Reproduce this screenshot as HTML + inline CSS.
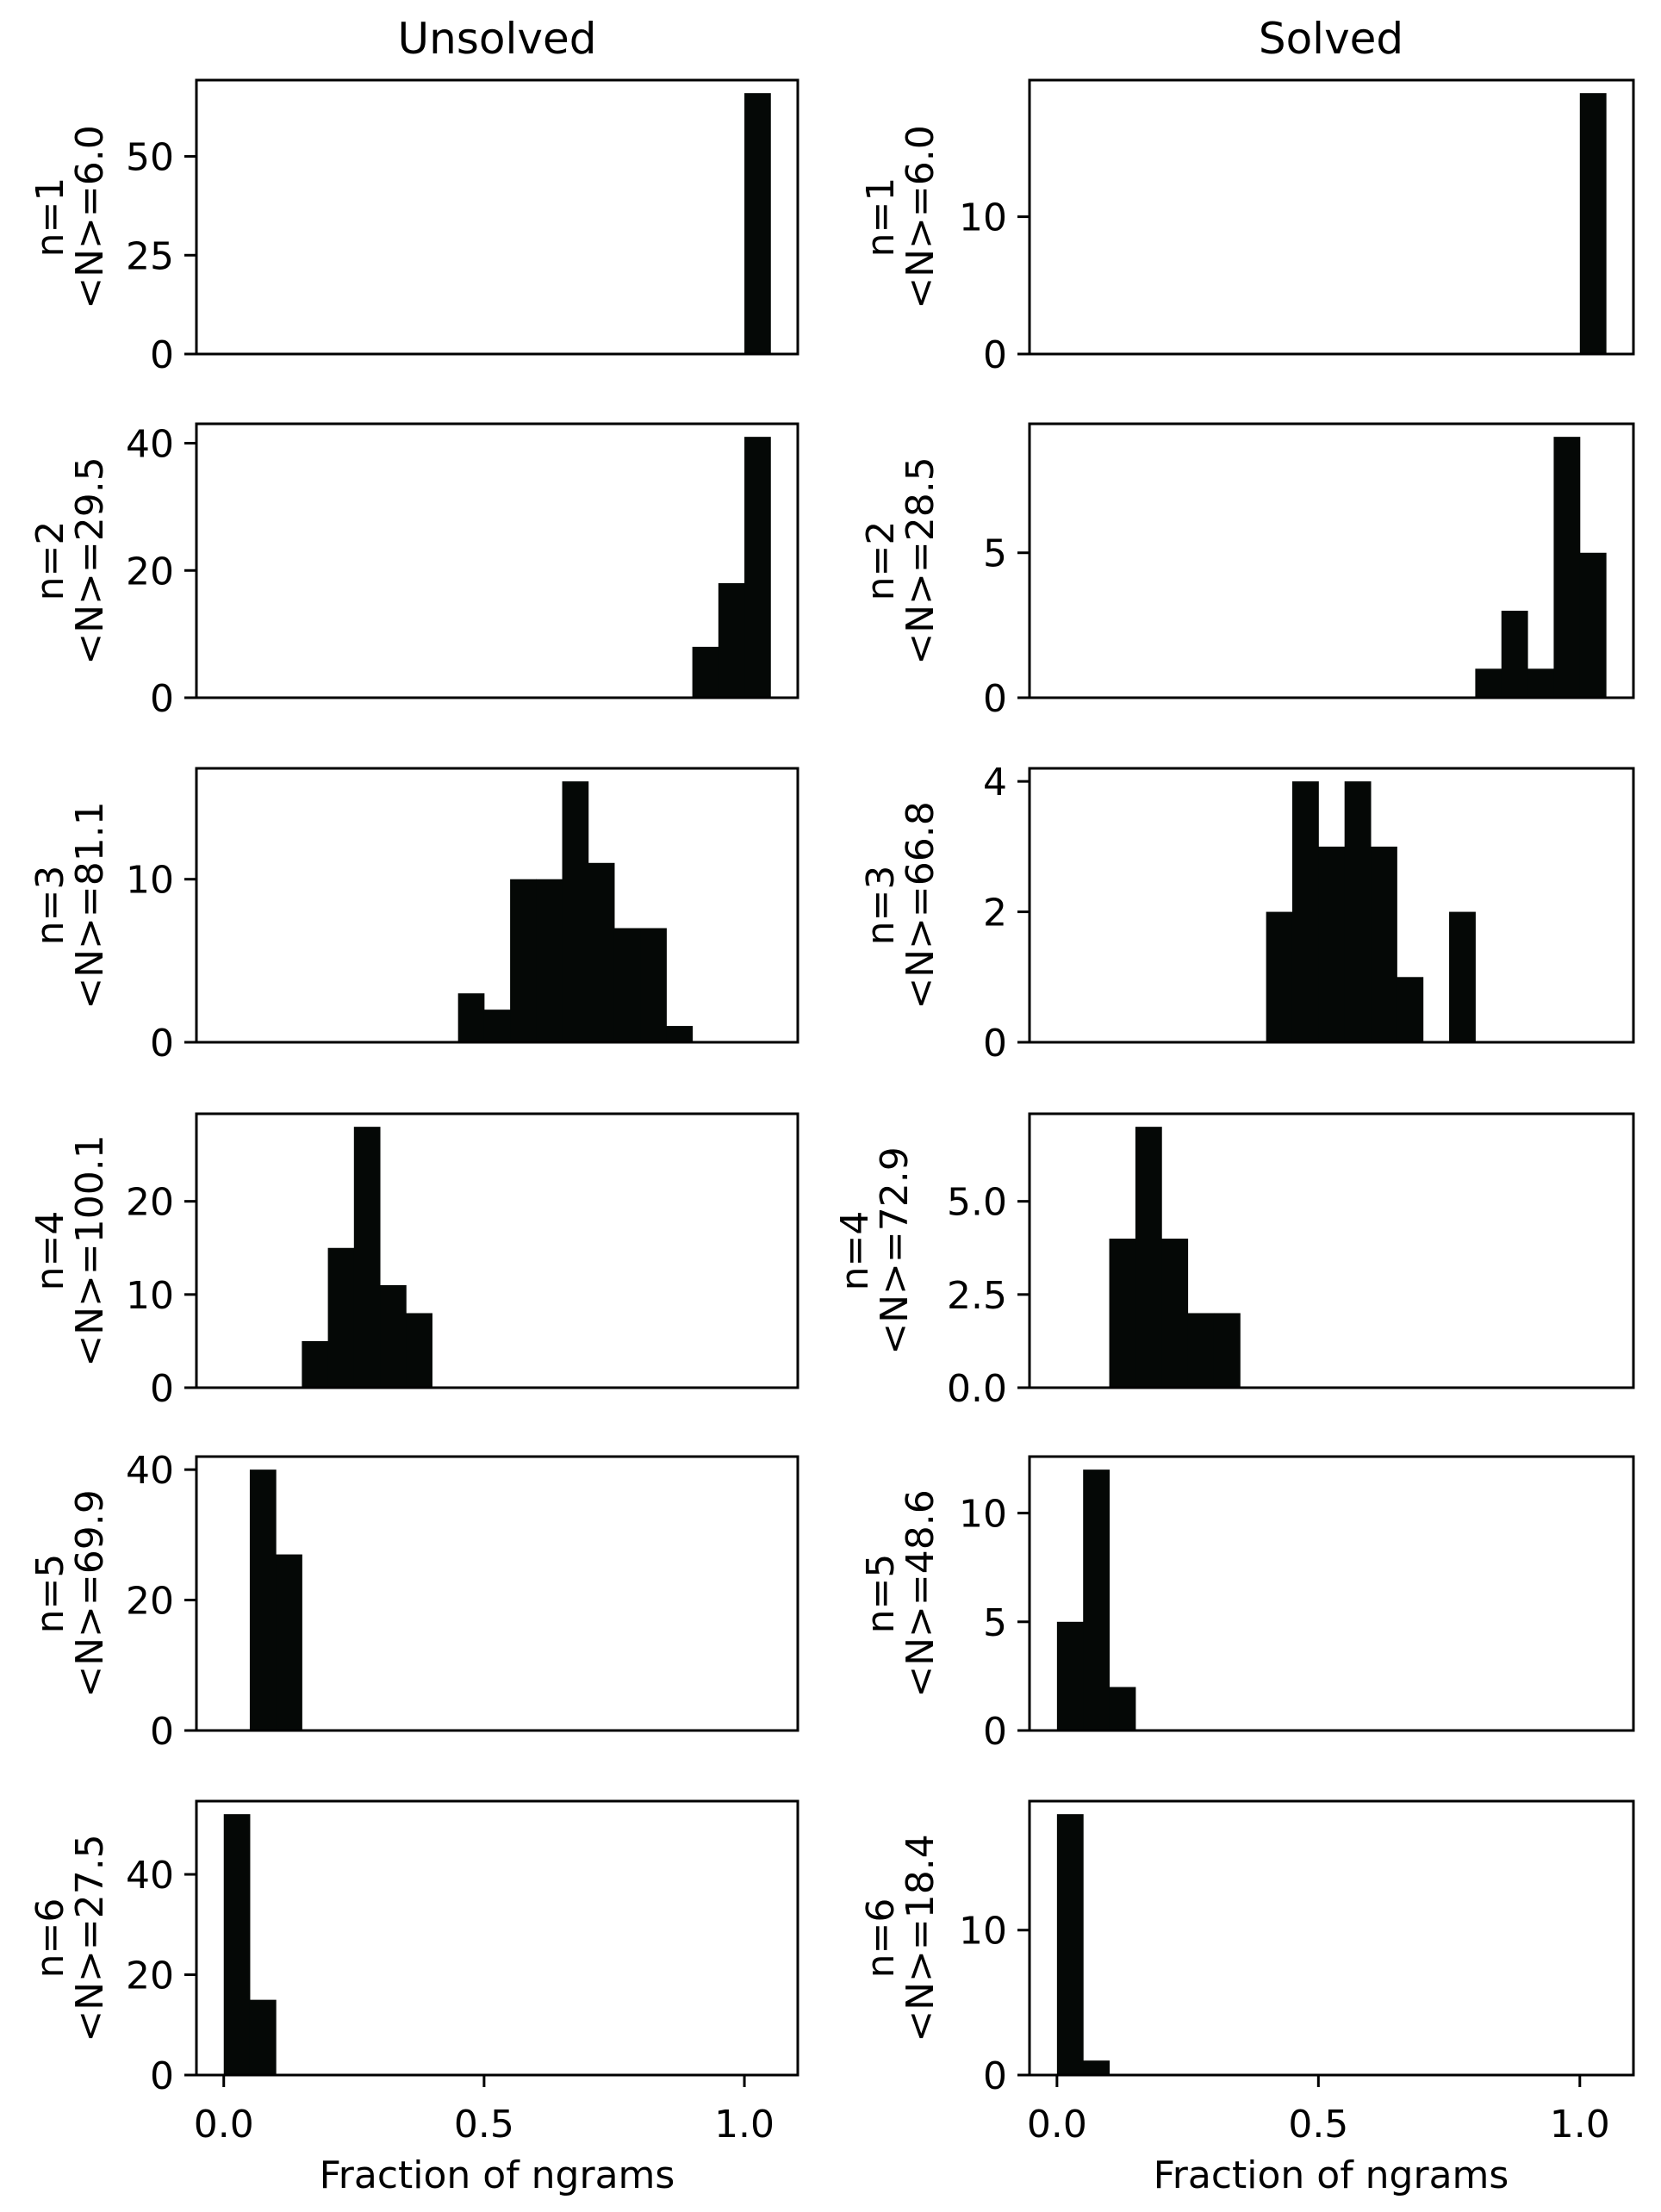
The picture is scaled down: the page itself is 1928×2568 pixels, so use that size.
<!DOCTYPE html>
<html><head><meta charset="utf-8"><style>
html,body{margin:0;padding:0;background:#fff;}
svg{display:block;font-family:"DejaVu Sans","Liberation Sans",sans-serif;}
</style></head><body>
<svg id="fig" width="1928" height="2568" viewBox="0 0 1928 2568">
<text x="577" y="62" font-size="50" text-anchor="middle">Unsolved</text>
<text x="1545" y="62" font-size="50" text-anchor="middle">Solved</text>
<text x="577" y="2540" font-size="44" text-anchor="middle">Fraction of ngrams</text>
<text x="1545" y="2540" font-size="44" text-anchor="middle">Fraction of ngrams</text>
</svg>
<script>
// bin start edges (width 0.05)
const binStarts = [0,0.05,0.1,0.15,0.2,0.25,0.3,0.35,0.4,0.45,0.5,0.55,0.6,0.65,0.7,0.75,0.8,0.85,0.9,0.95,1.0];
const unsolved1 = [0,0,0,0,0,0,0,0,0,0,0,0,0,0,0,0,0,0,0,0,66];
const unsolved2 = [0,0,0,0,0,0,0,0,0,0,0,0,0,0,0,0,0,0,8,18,41];
const unsolved3 = [0,0,0,0,0,0,0,0,0,3,2,10,10,16,11,7,7,1,0,0,0];
const unsolved4 = [0,0,0,5,15,28,11,8,0,0,0,0,0,0,0,0,0,0,0,0,0];
const unsolved5 = [0,40,27,0,0,0,0,0,0,0,0,0,0,0,0,0,0,0,0,0,0];
const unsolved6 = [52,15,0,0,0,0,0,0,0,0,0,0,0,0,0,0,0,0,0,0,0];
const solved1 = [0,0,0,0,0,0,0,0,0,0,0,0,0,0,0,0,0,0,0,0,19];
const solved2 = [0,0,0,0,0,0,0,0,0,0,0,0,0,0,0,0,1,3,1,9,5];
const solved3 = [0,0,0,0,0,0,0,0,2,4,3,4,3,1,0,2,0,0,0,0,0];
const solved4 = [0,0,4,7,4,2,2,0,0,0,0,0,0,0,0,0,0,0,0,0,0];
const solved5 = [5,12,2,0,0,0,0,0,0,0,0,0,0,0,0,0,0,0,0,0,0];
const solved6 = [18,1,0,0,0,0,0,0,0,0,0,0,0,0,0,0,0,0,0,0,0];
const unsolvedMeans = ["6.0","29.5","81.1","100.1","69.9","27.5"];
const solvedMeans = ["6.0","28.5","66.8","72.9","48.6","18.4"];
const unsolvedTicks = [[0,25,50],[0,20,40],[0,10],[0,10,20],[0,20,40],[0,20,40]];
const solvedTicks = [[0,10],[0,5],[0,2,4],[0,2.5,5.0],[0,5,10],[0,10]];
const xTicks = [0.0,0.5,1.0];
const xTickLabels = ["0.0","0.5","1.0"];

const NS="http://www.w3.org/2000/svg";
const svg=document.getElementById('fig');
function mk(tag,attrs){const e=document.createElementNS(NS,tag);for(const k in attrs)e.setAttribute(k,attrs[k]);svg.appendChild(e);return e;}
const rowTops=[93,492,892,1293,1691,2091], rowH=318;
const cols=[{x0:228,x1:926},{x0:1195,x1:1896}];
const unsolved=[unsolved1,unsolved2,unsolved3,unsolved4,unsolved5,unsolved6];
const solved=[solved1,solved2,solved3,solved4,solved5,solved6];
const xmin=-0.0525,xmax=1.1025,bw=0.05;
for(let c=0;c<2;c++){
  const col=cols[c];
  const sx=v=>col.x0+(v-xmin)/(xmax-xmin)*(col.x1-col.x0);
  for(let r=0;r<6;r++){
    const data=c===0?unsolved[r]:solved[r];
    const ticks=c===0?unsolvedTicks[r]:solvedTicks[r];
    const mean=c===0?unsolvedMeans[r]:solvedMeans[r];
    const top=rowTops[r],bot=top+rowH;
    const ymax=Math.max(...data)*1.05;
    const sy=v=>bot-v/ymax*rowH;
    const side=c===0?'unsolved':'solved';
    for(let i=0;i<data.length;i++){
      if(data[i]<=0)continue;
      const b=mk('rect',{x:sx(binStarts[i]),y:sy(data[i]),width:sx(binStarts[i]+bw)-sx(binStarts[i])+0.5,height:bot-sy(data[i]),fill:'#050806'});
      
      
    }
    const f=mk('rect',{x:col.x0,y:top,width:col.x1-col.x0,height:rowH,fill:'none',stroke:'#000','stroke-width':3});
    
    
    ticks.forEach(t=>{
      const y=sy(t);
      const l=mk('line',{x1:col.x0-14,x2:col.x0,y1:y,y2:y,stroke:'#000','stroke-width':3});
      
      
      const tx=mk('text',{x:col.x0-26,y:y+16,'font-size':44,'text-anchor':'end'});
      tx.textContent=(c===1&&r===3)?t.toFixed(1):String(t);
      
      
    });
    const cy=(top+bot)/2;
    const lx=c===0?73:(r===3?1007:1037);
    const g=mk('text',{transform:`translate(${lx},${cy}) rotate(-90)`,'font-size':44,'text-anchor':'middle'});
    
    
    const t1=document.createElementNS(NS,'tspan');t1.setAttribute('x',0);t1.setAttribute('y',0);t1.textContent='n='+(r+1);g.appendChild(t1);
    const t2=document.createElementNS(NS,'tspan');t2.setAttribute('x',0);t2.setAttribute('y',46);t2.textContent='<N>='+mean;g.appendChild(t2);
    if(r===5){
      xTicks.forEach((t,i)=>{
        const x=sx(t);
        const l=mk('line',{x1:x,x2:x,y1:bot,y2:bot+14,stroke:'#000','stroke-width':3});
        
        
        const tx=mk('text',{x:x,y:bot+72,'font-size':44,'text-anchor':'middle'});
        tx.textContent=xTickLabels[i];
        
        
      });
    }
  }
}
</script>
</body></html>
